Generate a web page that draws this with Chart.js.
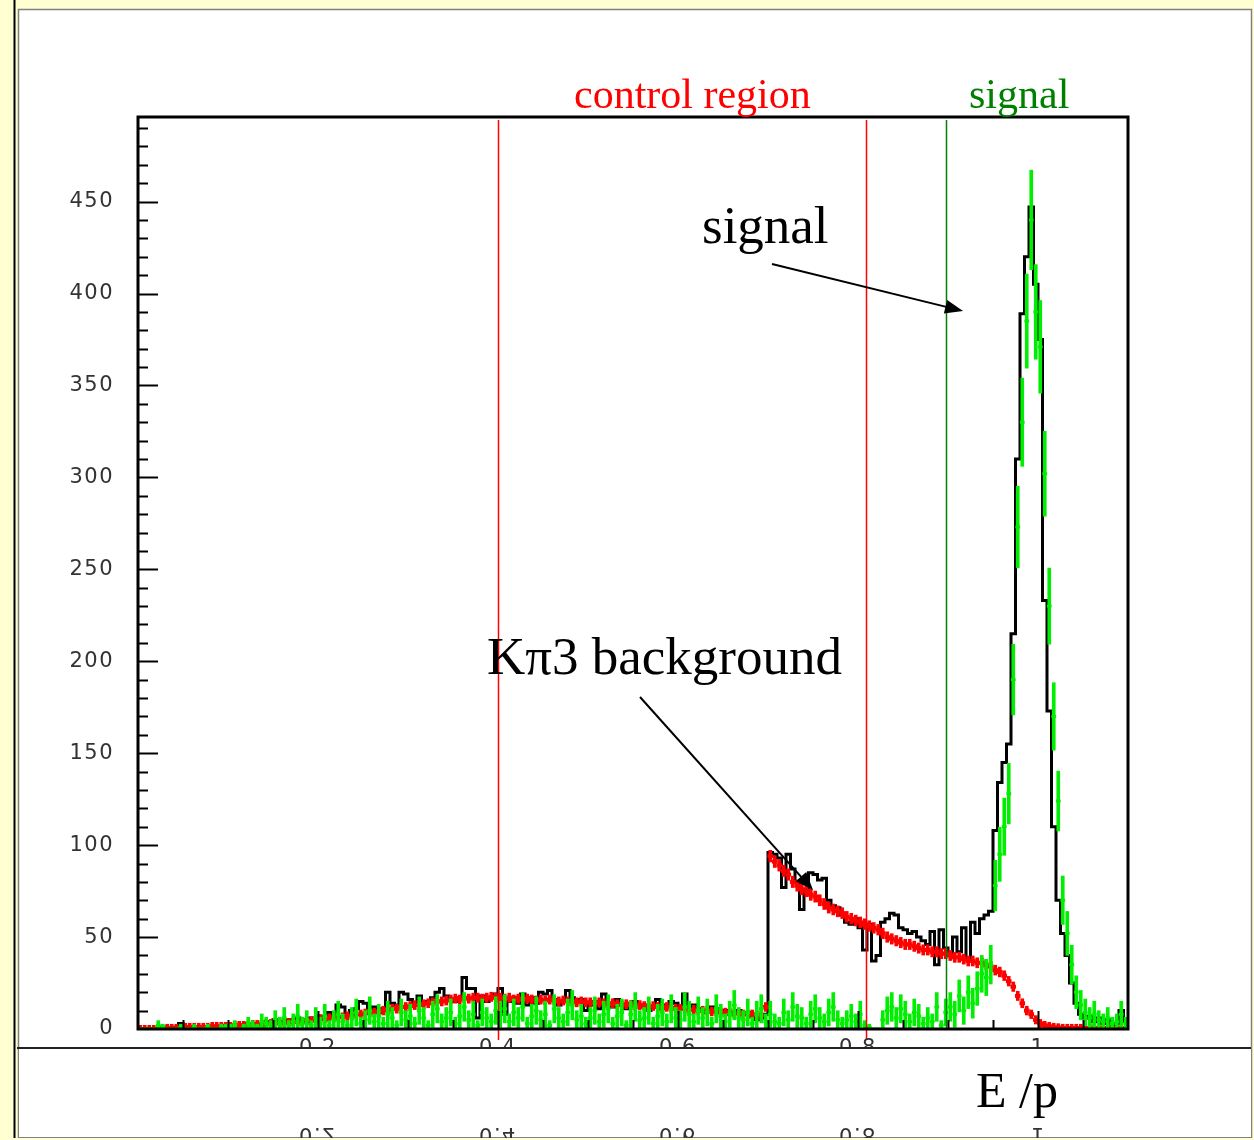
<!DOCTYPE html>
<html>
<head>
<meta charset="utf-8">
<script src="https://cdn.jsdelivr.net/npm/chart.js@4.4.1/dist/chart.umd.min.js"></script>
<style>
  html, body { margin: 0; padding: 0; background: #ffffd2; }
  #wrap { width: 1254px; height: 1140px; position: relative; }
</style>
</head>
<body>
<div id="wrap"><canvas id="myChart"></canvas></div>
<script>
// E/p distribution, bins of 0.005 from 0 to 1.1
var binWidth = 0.005;

// data (black histogram)
var total = [
  0,0,0,0,0,1,0,0,1,3,1,0,1,0,1,1,0,1,1,2,
  1,2,1,2,3,2,3,2,4,3,5,4,3,5,4,6,5,4,6,5,
  7,5,9,8,13,12,8,10,11,15,14,10,12,9,11,20,14,13,20,19,
  16,14,18,15,14,17,20,22,18,16,15,17,28,22,22,6,18,15,17,19,
  22,8,15,17,14,19,13,17,14,20,19,21,16,13,15,21,17,15,16,10,
  13,15,11,19,14,12,16,13,11,14,15,12,13,10,12,16,11,13,15,14,
  11,19,12,13,11,10,9,12,11,9,10,8,9,10,8,9,7,5,6,8,
  96,95,93,77,95,87,80,65,76,85,84,81,82,70,67,66,62,58,57,60,
  55,43,57,37,40,58,60,63,62,55,54,52,53,50,48,46,53,35,54,44,
  40,50,42,55,38,58,52,60,62,64,
  108,134,145,155,215,310,389,420,447,405,375,233,173,110,70,52,40,25,14,8,
  6,7,4,6,3,5,2,3,10,4
];

// K pi 3 background MC (red)
var background = [
  0,0,0,0,0,0,0.5,0.5,0.5,0.5,1,1,1,1,1,1,1.5,1.5,1.5,1.5,
  1.5,2,2,2,2,2.5,2.5,2.5,3,3,3,3.5,3.5,3.5,4,4,4,4.5,4.5,5,
  5.5,5.5,6,6,6.5,6.5,7,7,8,8,8.5,9,9,9.5,10,10.5,11,11,12,12,
  12.5,13,13,13.5,14,14.5,15,15,15.5,16,16.5,16,17,16.5,17,17,16.5,17,17.5,17,
  17,16.5,17,16,16.5,16,16.5,16,15.5,16,15.5,16,15.5,15,15.5,15,15,14.5,15,14.5,
  14.5,14,14.5,14,13.5,14,13.5,13,13.5,13,12.5,13,12.5,12,12.5,12,11.5,12,11.5,11,
  11,11,10.5,10.5,10,10,10,9.5,9.5,9,9,9,8.5,8.5,8,8,8,7.5,7.5,12,
  94,91,89,86,84,80,78,76,75,73,72,70,68,66,65,64,63,61,60,59,
  58,57,56,55,54,52,50,49,48,47,46,46,45,44,43,43,42,42,41,41,
  40,39,39,38,37,37,36,36,35,34,
  32,31,29,26,23,18,14,10,8,5,3,2,1.5,1,0.8,0.5,0.5,0.5,0.5,0.5,
  0.5,0.5,0.5,0.5,0.5,0.5,0.5,0.5,0.5,0.5
];

// signal MC (green)
var signal = [
  0,0,0,0,2,1,0,0,0,1,0,0,1,0,0,1,0,0,1,1,
  1,2,0,1,3,2,1,4,3,2,5,3,6,2,4,7,3,5,2,6,
  3,7,2,5,8,4,2,6,9,3,5,10,4,7,3,8,6,2,9,5,
  7,3,10,6,2,8,11,4,6,9,3,7,12,5,8,2,9,6,4,10,
  8,11,4,9,6,12,3,7,10,5,8,2,11,6,4,9,13,5,7,3,
  6,10,4,8,11,3,7,9,2,8,12,5,6,10,3,7,9,4,11,6,
  5,12,8,4,10,6,9,3,11,7,4,8,13,6,5,9,3,8,11,4,
  8,4,3,9,5,12,7,6,3,8,11,6,4,9,12,5,3,5,7,4,
  8,2,1,0,0,5,10,12,6,11,8,4,9,7,3,6,4,12,2,9,
  12,8,18,10,20,14,22,30,28,35,
  78,95,110,128,190,273,330,385,440,390,371,302,230,170,124,70,52,35,20,13,
  9,6,8,5,4,6,3,4,8,3
];

var yTicks = [0, 50, 100, 150, 200, 250, 300, 350, 400, 450];
var xTicks = [0.2, 0.4, 0.6, 0.8, 1.0];
var xTickLabels = ['0.2', '0.4', '0.6', '0.8', '1'];
var cutLines = [
  { x: 0.4, color: '#ff0000', bottom: 1040 },
  { x: 0.809, color: '#ff0000', bottom: 1040 },
  { x: 0.898, color: '#008000', bottom: 1029 }
];

// histogram points: each value held over its own bin
var totalSteps = total.map(function (v, i) { return { x: i * binWidth, y: v }; });
totalSteps.push({ x: total.length * binWidth, y: total[total.length - 1] });

function centers(arr) {
  return arr.map(function (v, i) { return { x: (i + 0.5) * binWidth, y: v }; });
}
function errBars(arr, errFn) {
  return arr.map(function (v, i) {
    var e = errFn(v);
    return { x: (i + 0.5) * binWidth, y: [Math.max(0, v - e), v + e] };
  });
}

var bgErr = errBars(background, function (v) { return 2 + 0.12 * Math.sqrt(v); });
var sigErr = errBars(signal, function (v) { return 1.1 * Math.sqrt(v) + Math.min(0.5 * v, 4); });

function arrow(ctx, x1, y1, x2, y2) {
  var a = Math.atan2(y2 - y1, x2 - x1);
  ctx.beginPath();
  ctx.moveTo(x1, y1);
  ctx.lineTo(x2 - 12 * Math.cos(a), y2 - 12 * Math.sin(a));
  ctx.stroke();
  ctx.beginPath();
  ctx.moveTo(x2, y2);
  ctx.lineTo(x2 - 18 * Math.cos(a) + 7 * Math.sin(a), y2 - 18 * Math.sin(a) - 7 * Math.cos(a));
  ctx.lineTo(x2 - 18 * Math.cos(a) - 7 * Math.sin(a), y2 - 18 * Math.sin(a) + 7 * Math.cos(a));
  ctx.closePath();
  ctx.fill();
}

var decor = {
  id: 'decor',
  beforeDraw: function (chart) {
    var ctx = chart.ctx;
    ctx.save();
    ctx.fillStyle = '#ffffd2';
    ctx.fillRect(0, 0, chart.width, chart.height);
    ctx.fillStyle = '#ffffff';
    ctx.fillRect(19, 10, 1232, 1127);
    ctx.strokeStyle = '#808080';
    ctx.lineWidth = 1.5;
    ctx.strokeRect(18.5, 9.5, 1233, 1128);
    ctx.strokeStyle = '#000000';
    ctx.lineWidth = 2;
    ctx.beginPath();
    ctx.moveTo(14.5, 0);
    ctx.lineTo(14.5, chart.height);
    ctx.stroke();
    ctx.restore();
  },
  afterDatasetsDraw: function (chart) {
    var ctx = chart.ctx;
    var xs = chart.scales.x, ys = chart.scales.y;
    var area = chart.chartArea;
    ctx.save();

    // region lines
    ctx.lineWidth = 1.5;
    cutLines.forEach(function (c) {
      var px = Math.round(xs.getPixelForValue(c.x)) + 0.5;
      ctx.strokeStyle = c.color;
      ctx.beginPath();
      ctx.moveTo(px, area.top + 3);
      ctx.lineTo(px, c.bottom);
      ctx.stroke();
    });

    // frame
    ctx.strokeStyle = '#000';
    ctx.lineWidth = 3;
    ctx.strokeRect(area.left, area.top, area.right - area.left, area.bottom - area.top);

    // y ticks, inside
    ctx.lineWidth = 2;
    for (var v = 10; v < ys.max; v += 10) {
      var py = Math.round(ys.getPixelForValue(v)) + 0.5;
      var len = (v % 50 === 0) ? 20 : 10;
      ctx.beginPath();
      ctx.moveTo(area.left, py);
      ctx.lineTo(area.left + len, py);
      ctx.stroke();
    }
    // x ticks, inside
    for (var k = 1; k * 0.05 < xs.max - 0.001; k++) {
      var px2 = Math.round(xs.getPixelForValue(k * 0.05)) + 0.5;
      var len2 = (k % 4 === 0) ? 18 : 9;
      ctx.beginPath();
      ctx.moveTo(px2, area.bottom);
      ctx.lineTo(px2, area.bottom - len2);
      ctx.stroke();
    }

    // tick labels
    ctx.fillStyle = '#333';
    ctx.font = '21px "DejaVu Sans"';
    ctx.letterSpacing = '1.5px';
    ctx.textAlign = 'right';
    ctx.textBaseline = 'middle';
    yTicks.forEach(function (t) {
      ctx.fillText(String(t), 114, ys.getPixelForValue(t));
    });
    ctx.textAlign = 'center';
    ctx.textBaseline = 'top';
    xTicks.forEach(function (t, i) {
      ctx.fillText(xTickLabels[i], xs.getPixelForValue(t), 1038);
    });
    ctx.restore();
  },
  afterDraw: function (chart) {
    var ctx = chart.ctx;
    var xs = chart.scales.x;
    ctx.save();

    // lower pane
    ctx.fillStyle = '#fff';
    ctx.fillRect(19, 1049, 1232, 88);
    ctx.strokeStyle = '#222';
    ctx.lineWidth = 2;
    ctx.beginPath();
    ctx.moveTo(17, 1048);
    ctx.lineTo(1251, 1048);
    ctx.stroke();

    // mirrored labels at the very bottom
    ctx.fillStyle = '#333';
    ctx.font = '21px "DejaVu Sans"';
    ctx.letterSpacing = '1.5px';
    ctx.textAlign = 'center';
    ctx.textBaseline = 'alphabetic';
    xTicks.forEach(function (t, i) {
      ctx.save();
      ctx.translate(xs.getPixelForValue(t), 1128);
      ctx.scale(1, -1);
      ctx.fillText(xTickLabels[i], 0, 0);
      ctx.restore();
    });
    ctx.fillStyle = '#ffffd2';
    ctx.fillRect(0, 1138, chart.width, 2);
    ctx.letterSpacing = '0px';

    // axis title
    ctx.fillStyle = '#000';
    ctx.textAlign = 'left';
    ctx.font = '50px "Liberation Serif"';
    ctx.fillText('E /p', 976, 1107);

    // annotations
    ctx.font = '42px "Liberation Serif"';
    ctx.fillStyle = '#ff0000';
    ctx.fillText('control region', 574, 108);
    ctx.fillStyle = '#008000';
    ctx.fillText('signal', 969, 108);

    ctx.fillStyle = '#000';
    ctx.font = '53px "Liberation Serif"';
    ctx.fillText('signal', 702, 243);
    ctx.fillText('K\u03c03 background', 487, 674);

    ctx.strokeStyle = '#000';
    ctx.lineWidth = 2;
    arrow(ctx, 772, 264, 963, 311);
    arrow(ctx, 640, 697, 813, 890);
    ctx.restore();
  }
};

var ctx = document.getElementById('myChart').getContext('2d');
var chart = new Chart(ctx, {
  type: 'scatter',
  data: {
    datasets: [
      {
        type: 'line',
        label: 'data',
        data: totalSteps,
        stepped: 'before',
        borderColor: '#000',
        borderWidth: 3,
        pointRadius: 0,
        fill: false,
        order: 5
      },
      {
        type: 'bar',
        label: 'background err',
        data: bgErr,
        backgroundColor: '#ff0000',
        barThickness: 3,
        grouped: false,
        order: 4
      },
      {
        type: 'scatter',
        label: 'background',
        data: centers(background),
        pointStyle: 'line',
        pointRadius: 2.8,
        pointBorderWidth: 4,
        borderColor: '#ff0000',
        backgroundColor: '#ff0000',
        order: 3
      },
      {
        type: 'bar',
        label: 'signal err',
        data: sigErr,
        backgroundColor: '#00ee00',
        barThickness: 3,
        grouped: false,
        order: 2
      },
      {
        type: 'scatter',
        label: 'signal',
        data: centers(signal),
        pointStyle: 'line',
        pointRadius: 2.4,
        pointBorderWidth: 3,
        borderColor: '#00ee00',
        backgroundColor: '#00ee00',
        order: 1
      }
    ]
  },
  options: {
    responsive: true,
    maintainAspectRatio: false,
    animation: false,
    devicePixelRatio: 1,
    layout: { padding: { left: 138, top: 117, right: 126, bottom: 111 } },
    scales: {
      x: { type: 'linear', min: 0, max: 1.1, display: false, offset: false },
      y: { type: 'linear', min: 0, max: 496, display: false }
    },
    plugins: {
      legend: { display: false },
      tooltip: { enabled: false }
    }
  },
  plugins: [decor]
});
</script>
</body>
</html>
